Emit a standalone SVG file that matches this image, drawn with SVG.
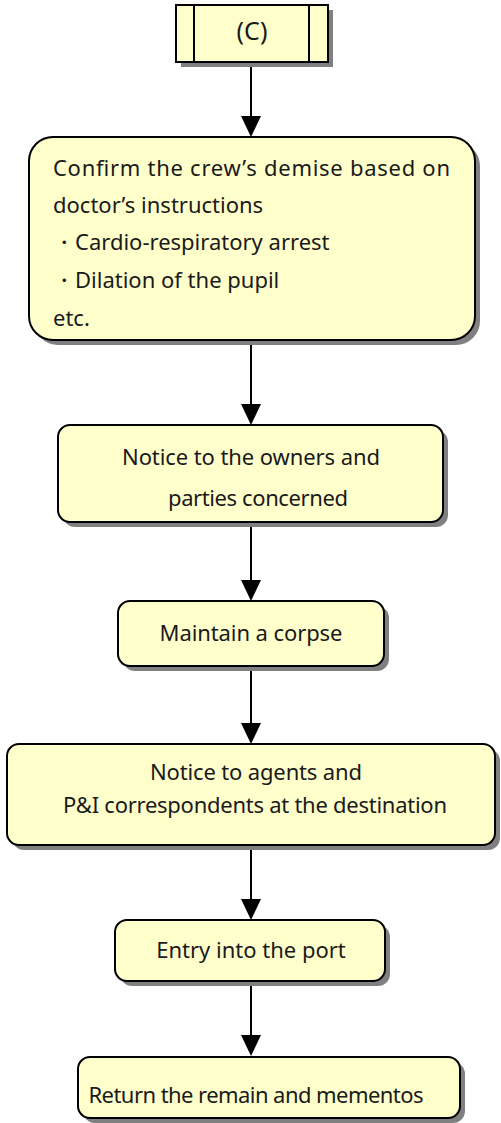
<svg xmlns="http://www.w3.org/2000/svg" width="501" height="1123" viewBox="0 0 501 1123">
<style>
.box{fill:#FFFFCC;stroke:#000;stroke-width:2}
.sh{fill:#808080}
.t{font-family:"Noto Sans","Open Sans",sans-serif;font-size:22px;fill:#1a1a1a}
.c{text-anchor:middle}
.ln{stroke:#000;stroke-width:2;fill:none}
</style>
<g id="connectors">
<path class="ln" d="M251,62 V117"/><path d="M241,116 L261,116 L251,137 Z"/>
<path class="ln" d="M251,340 V405"/><path d="M241,404 L261,404 L251,425 Z"/>
<path class="ln" d="M251,522 V581"/><path d="M241,580 L261,580 L251,601 Z"/>
<path class="ln" d="M251,666 V724"/><path d="M241,723 L261,723 L251,744 Z"/>
<path class="ln" d="M251,845 V900"/><path d="M241,899 L261,899 L251,920 Z"/>
<path class="ln" d="M251,981 V1036"/><path d="M241,1035 L261,1035 L251,1056 Z"/>
</g>
<g id="nodeC">
<rect class="sh" x="181" y="10" width="152" height="57"/>
<rect class="box" x="176" y="5" width="152" height="57"/>
<line class="ln" x1="194" y1="5" x2="194" y2="62"/>
<line class="ln" x1="309" y1="5" x2="309" y2="62"/>
<text class="t c" x="252" y="40" style="font-size:25px">(C)</text>
</g>
<g id="node1">
<rect class="sh" x="34" y="142" width="446" height="203" rx="24"/>
<rect class="box" x="29" y="137" width="446" height="203" rx="24"/>
<text class="t" x="53" y="176" textLength="397" lengthAdjust="spacing">Confirm the crew’s demise based on</text>
<text class="t" x="53" y="213">doctor’s instructions</text>
<text class="t" x="53" y="250">・Cardio-respiratory arrest</text>
<text class="t" x="53" y="288">・Dilation of the pupil</text>
<text class="t" x="53" y="326">etc.</text>
</g>
<g id="node2">
<rect class="sh" x="63" y="430" width="385" height="97" rx="12"/>
<rect class="box" x="58" y="425" width="385" height="97" rx="12"/>
<text class="t c" x="251" y="465" textLength="258" lengthAdjust="spacing">Notice to the owners and</text>
<text class="t c" x="258" y="506" textLength="180" lengthAdjust="spacing">parties concerned</text>
</g>
<g id="node3">
<rect class="sh" x="123" y="606" width="266" height="65" rx="12"/>
<rect class="box" x="118" y="601" width="266" height="65" rx="12"/>
<text class="t c" x="251" y="641" textLength="183" lengthAdjust="spacing">Maintain a corpse</text>
</g>
<g id="node4">
<rect class="sh" x="12" y="749" width="488" height="101" rx="12"/>
<rect class="box" x="7" y="744" width="488" height="101" rx="12"/>
<text class="t c" x="256" y="780" textLength="212" lengthAdjust="spacing">Notice to agents and</text>
<text class="t c" x="255" y="813" textLength="384" lengthAdjust="spacing">P&amp;I correspondents at the destination</text>
</g>
<g id="node5">
<rect class="sh" x="120" y="925" width="270" height="61" rx="12"/>
<rect class="box" x="115" y="920" width="270" height="61" rx="12"/>
<text class="t c" x="251" y="958">Entry into the port</text>
</g>
<g id="node6">
<rect class="sh" x="83" y="1062" width="382" height="61" rx="12"/>
<rect class="box" x="78" y="1057" width="382" height="61" rx="12"/>
<text class="t c" x="256" y="1103" textLength="335" lengthAdjust="spacing">Return the remain and mementos</text>
</g>
</svg>
